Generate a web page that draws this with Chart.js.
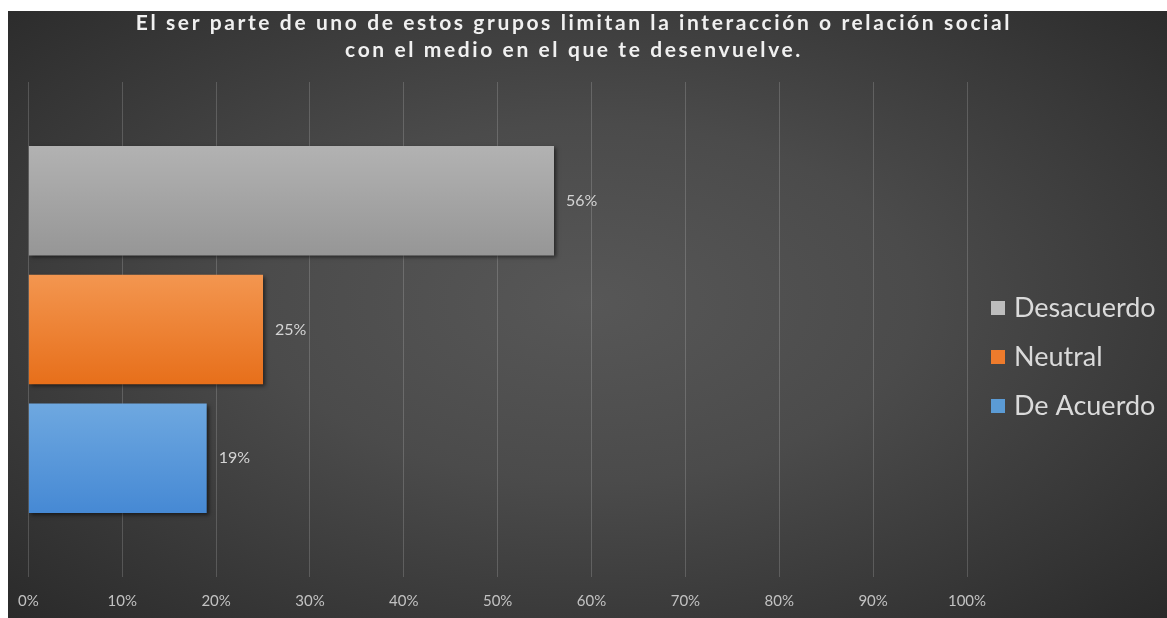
<!DOCTYPE html>
<html>
<head>
<meta charset="utf-8">
<script src="https://cdn.jsdelivr.net/npm/chart.js"></script>
<style>
  html, body { margin: 0; padding: 0; background: #fff; }
  #wrap {
    position: absolute; left: 8px; top: 11px; width: 1159px; height: 607px;
    background: radial-gradient(ellipse at 50% 48%, #575757 0%, #4b4b4b 40%, #2a2a2a 100%);
  }
  #box { position: absolute; left: -5px; top: 0; width: 1164px; height: 607px; }
</style>
</head>
<body>
<div id="wrap"><div id="box"><canvas id="chart"></canvas></div></div>
<script>
// Data
const titleLines = [
  'El ser parte de uno de estos grupos limitan la interacción o relación social',
  'con el medio en el que te desenvuelve.'
];
const seriesNames = ['Desacuerdo', 'Neutral', 'De Acuerdo'];
const seriesValues = [56, 25, 19];
const seriesTop = ['#b2b2b2', '#f39650', '#6ea8e0'];
const seriesBottom = ['#969696', '#e76f1a', '#4689d4'];
const legendColors = ['#bdbdbd', '#ee7b2c', '#5b9bd5'];

const ctx = document.getElementById('chart').getContext('2d');

// gradient fill + shadow on bars
const barStyle = {
  id: 'barStyle',
  beforeDatasetsDraw(chart) {
    const c = chart.ctx;
    chart.data.datasets.forEach((ds, i) => {
      chart.getDatasetMeta(i).data.forEach(el => {
        const g = c.createLinearGradient(0, el.y - el.height / 2, 0, el.y + el.height / 2);
        g.addColorStop(0, seriesTop[i]);
        g.addColorStop(1, seriesBottom[i]);
        el.options = Object.assign({}, el.options, { backgroundColor: g });
      });
    });
    c.save();
    c.shadowColor = 'rgba(0,0,0,0.55)';
    c.shadowBlur = 4;
    c.shadowOffsetX = 2;
    c.shadowOffsetY = 2;
  },
  afterDatasetsDraw(chart) {
    const c = chart.ctx;
    c.restore();
    // value labels
    c.save();
    c.font = '16px Lato';
    c.fillStyle = '#d4d4d4';
    c.textBaseline = 'middle';
    c.textAlign = 'left';
    chart.data.datasets.forEach((ds, i) => {
      chart.getDatasetMeta(i).data.forEach((el, j) => {
        c.fillText(ds.data[j] + '%', el.x + 12, el.y);
      });
    });
    c.restore();
  }
};

// title and legend drawn by hand (canvas is shifted 5px left)
const titleLegend = {
  id: 'titleLegend',
  afterDraw(chart) {
    const c = chart.ctx;
    c.save();
    c.fillStyle = '#f0f0f0';
    c.font = 'bold 21px Lato';
    c.letterSpacing = '2.6px';
    c.textAlign = 'center';
    c.textBaseline = 'middle';
    titleLines.forEach((t, i) => c.fillText(t, 571, 12 + i * 27));

    c.letterSpacing = '0px';
    c.font = '27px Lato';
    c.textAlign = 'left';
    seriesNames.forEach((name, i) => {
      const y = 297 + i * 49;
      c.fillStyle = legendColors[i];
      c.fillRect(988, y - 7, 14, 14);
      c.fillStyle = '#dadada';
      c.fillText(name, 1011, y);
    });
    c.restore();
  }
};

new Chart(ctx, {
  type: 'bar',
  data: {
    labels: [''],
    datasets: seriesNames.map((name, i) => ({
      label: name,
      data: [seriesValues[i]],
      backgroundColor: legendColors[i],
      borderWidth: 0,
      categoryPercentage: 0.78,
      barPercentage: 0.85
    }))
  },
  options: {
    indexAxis: 'y',
    responsive: true,
    maintainAspectRatio: false,
    animation: false,
    layout: { padding: { left: 14, right: 200, top: 71, bottom: -7 } },
    plugins: {
      legend: { display: false },
      title: { display: false },
      tooltip: { enabled: false }
    },
    scales: {
      x: {
        min: 0,
        max: 100,
        ticks: {
          stepSize: 10,
          padding: 15,
          color: '#c2c2c2',
          font: { family: 'Lato', size: 15 },
          callback: v => v + '%'
        },
        grid: { color: 'rgba(255,255,255,0.17)', drawTicks: false },
        border: { display: false }
      },
      y: { display: false }
    }
  },
  plugins: [barStyle, titleLegend]
});
</script>
</body>
</html>
